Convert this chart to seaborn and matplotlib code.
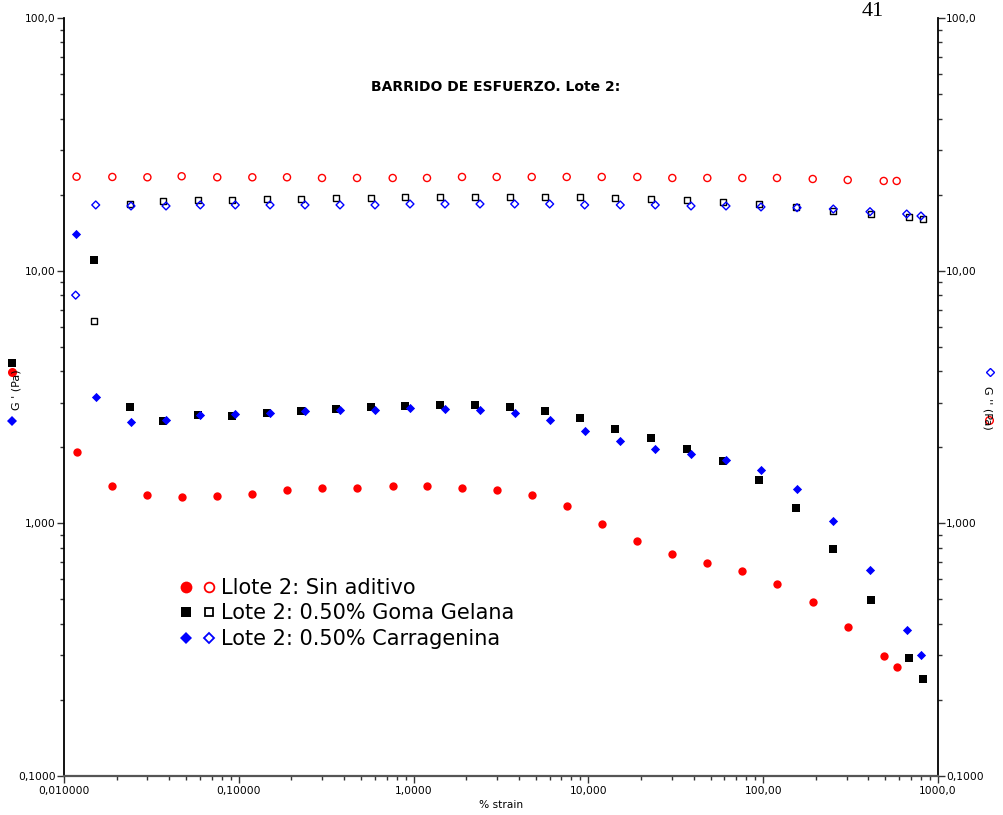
import numpy as np
import pandas as pd
import matplotlib
matplotlib.use("Agg")
import matplotlib.pyplot as plt
import seaborn as sns
from matplotlib.lines import Line2D
from matplotlib.legend_handler import HandlerTuple
from matplotlib.ticker import LogLocator, NullFormatter

# ---------------- data ----------------
strain_sin = [0.0118, 0.0189, 0.0300, 0.0471, 0.0753, 0.1195, 0.1887, 0.2992, 0.4746,
              0.7592, 1.193, 1.892, 2.988, 4.740, 7.513, 11.92, 19.05, 30.20, 47.89,
              75.94, 119.9, 192.0, 304.4, 489.2, 580.2]
gp_sin = [1.917, 1.406, 1.292, 1.272, 1.284, 1.304, 1.352, 1.384, 1.384, 1.406, 1.406,
          1.384, 1.359, 1.292, 1.169, 0.992, 0.850, 0.759, 0.697, 0.646, 0.577, 0.490,
          0.389, 0.298, 0.270]
gpp_sin = [23.55, 23.49, 23.42, 23.64, 23.42, 23.42, 23.42, 23.27, 23.27, 23.27, 23.27,
           23.49, 23.49, 23.49, 23.49, 23.49, 23.49, 23.27, 23.27, 23.27, 23.27, 23.06,
           22.85, 22.65, 22.65]

strain_goma = [0.01491, 0.02395, 0.03669, 0.05819, 0.09108, 0.1444, 0.2260, 0.3584,
               0.5683, 0.8963, 1.422, 2.236, 3.546, 5.666, 8.952, 14.25, 22.81, 36.66,
               58.66, 95.0, 154.0, 251.8, 413.7, 679.8, 817.3]
gp_goma = [11.00, 2.880, 2.550, 2.693, 2.668, 2.735, 2.785, 2.836, 2.888, 2.907, 2.934,
           2.934, 2.888, 2.785, 2.606, 2.364, 2.172, 1.975, 1.766, 1.489, 1.151, 0.790,
           0.496, 0.294, 0.2416]
gpp_goma = [6.34, 18.41, 18.87, 19.10, 19.05, 19.22, 19.22, 19.40, 19.40, 19.52, 19.52,
            19.52, 19.52, 19.52, 19.52, 19.35, 19.18, 18.99, 18.70, 18.36, 17.87, 17.28,
            16.72, 16.31, 16.06]

strain_carr = [0.01166, 0.01519, 0.02417, 0.03834, 0.06022, 0.0955, 0.1509, 0.2392,
               0.3793, 0.6014, 0.9537, 1.512, 2.398, 3.787, 6.006, 9.524, 15.22, 24.13,
               38.64, 61.27, 97.14, 156.2, 251.8, 408.3, 662.1, 799.1]
gp_carr = [13.97, 3.163, 2.512, 2.573, 2.693, 2.710, 2.735, 2.785, 2.810, 2.803, 2.854,
           2.828, 2.803, 2.735, 2.573, 2.321, 2.113, 1.975, 1.877, 1.782, 1.622, 1.364,
           1.019, 0.652, 0.378, 0.301]
gpp_carr = [8.0, 18.2, 18.03, 18.03, 18.2, 18.2, 18.2, 18.2, 18.2, 18.2, 18.36, 18.36,
            18.36, 18.36, 18.36, 18.2, 18.2, 18.2, 18.03, 18.03, 17.87, 17.75, 17.54,
            17.12, 16.76, 16.46]

series_labels = ["Llote 2: Sin aditivo", "Lote 2: 0.50% Goma Gelana",
                 "Lote 2: 0.50% Carragenina"]
x_ticks = [0.01, 0.1, 1, 10, 100, 1000]
x_ticklabels = ["0,010000", "0,10000", "1,0000", "10,000", "100,00", "1000,0"]
y_ticks = [0.1, 1, 10, 100]
y_ticklabels = ["0,1000", "1,000", "10,00", "100,0"]
title = "BARRIDO DE ESFUERZO. Lote 2:"
x_label = "% strain"

# ---------------- styling ----------------
sns.set_style("ticks")
plt.rcParams["font.family"] = ["DejaVu Sans"]
plt.rcParams["text.color"] = "black"
plt.rcParams["xtick.color"] = "black"
plt.rcParams["ytick.color"] = "black"
plt.rcParams["xtick.labelcolor"] = "black"
plt.rcParams["ytick.labelcolor"] = "black"

W, H = 1004, 815
fig = plt.figure(figsize=(W / 100, H / 100), dpi=100)
ax = fig.add_axes([64 / W, 1 - 776 / H, (938 - 64) / W, (776 - 18) / H])

RED, BLACK, BLUE = "#ff0000", "#000000", "#0000ff"

def sc(x, y, marker, color, filled, s):
    df = pd.DataFrame({"x": x, "y": y})
    if filled:
        sns.scatterplot(data=df, x="x", y="y", ax=ax, marker=marker, color=color,
                        s=s, linewidth=0, zorder=3)
    else:
        sns.scatterplot(data=df, x="x", y="y", ax=ax, marker=marker, s=s,
                        facecolor="none", edgecolor=color, linewidth=1.0, zorder=3)

sc(strain_sin, gp_sin, "o", RED, True, 36)
sc(strain_sin, gpp_sin, "o", RED, False, 26)
sc(strain_goma, gp_goma, "s", BLACK, True, 26)
sc(strain_goma, gpp_goma, "s", BLACK, False, 20)
sc(strain_carr, gp_carr, "D", BLUE, True, 22)
sc(strain_carr, gpp_carr, "D", BLUE, False, 16)

ax.set_xscale("log")
ax.set_yscale("log")
ax.set_xlim(0.01, 1000)
ax.set_ylim(0.1, 100)
ax.set_xticks(x_ticks)
ax.set_xticklabels(x_ticklabels)
ax.set_yticks(y_ticks)
ax.set_yticklabels(y_ticklabels)
ax.xaxis.set_minor_locator(LogLocator(base=10, subs=range(2, 10)))
ax.yaxis.set_minor_locator(LogLocator(base=10, subs=range(2, 10)))
ax.xaxis.set_minor_formatter(NullFormatter())
ax.yaxis.set_minor_formatter(NullFormatter())
ax.set_xlabel("")
ax.set_ylabel("")

ax.spines["top"].set_visible(False)
for side in ["left", "right"]:
    ax.spines[side].set_visible(True)
    ax.spines[side].set_color("#000000")
    ax.spines[side].set_linewidth(1.3)
ax.spines["bottom"].set_color("#555555")
ax.spines["bottom"].set_linewidth(1.6)

ax.tick_params(axis="y", which="both", left=True, right=True, labelleft=True,
               labelright=True, direction="out", labelsize=7.7, pad=0.8,
               color="#333333", width=1)
ax.tick_params(axis="x", which="both", bottom=True, top=False, direction="out",
               labelsize=7.7, pad=2.5, color="#333333", width=1)
ax.tick_params(which="major", length=5)
ax.tick_params(which="minor", length=3)

# x label
fig.text(501 / W, 1 - 805 / H, x_label, ha="center", va="center", fontsize=7.7)

# title
fig.text(496 / W, 1 - 87 / H, title, ha="center", va="center", fontsize=10,
         fontweight="bold")

# page number
fig.text(873 / W, 1 - 16 / H, "41", ha="center", va="baseline", fontsize=16,
         family=["Liberation Serif", "DejaVu Serif"])

# y labels (with Origin-style symbol keys drawn as markers)
fig.text(17 / W, 1 - 390 / H, "G ' (Pa)", rotation=90, ha="center", va="center",
         fontsize=8)
fig.text(988 / W, 1 - 408 / H, "G '' (Pa)", rotation=270, ha="center", va="center",
         fontsize=8)

def key(xpx, ypx, marker, color, filled, ms):
    fig.add_artist(Line2D([xpx / W], [1 - ypx / H], transform=fig.transFigure,
                          ls="none", marker=marker, ms=ms,
                          mfc=color if filled else "none", mec=color,
                          mew=0 if filled else 1.0))

key(12, 421, "D", BLUE, True, 5)
key(12, 372, "o", RED, True, 6.5)
key(12, 363, "s", BLACK, True, 5.5)
key(990, 372, "D", BLUE, False, 4.5)
key(989, 420, "o", RED, False, 5.5)

# legend
def mk(marker, color, filled, ms):
    if filled:
        return Line2D([], [], ls="none", marker=marker, mfc=color, mec=color, ms=ms, mew=0)
    return Line2D([], [], ls="none", marker=marker, mfc="none", mec=color, ms=ms - 1.5,
                  mew=1.3)

handles = [
    (mk("o", RED, True, 8.5), mk("o", RED, False, 8.5)),
    (mk("s", BLACK, True, 7.5), mk("s", BLACK, False, 7.5)),
    (mk("D", BLUE, True, 6.5), mk("D", BLUE, False, 6.5)),
]
leg = fig.legend(handles, series_labels, loc="upper left",
                 bbox_to_anchor=(181 / W, 1 - 578 / H), bbox_transform=fig.transFigure,
                 frameon=False, fontsize=15,
                 handler_map={tuple: HandlerTuple(ndivide=None, pad=0.6)},
                 handlelength=1.6, handletextpad=0.3, labelspacing=0.26, borderpad=0,
                 borderaxespad=0)
for t in leg.get_texts():
    t.set_color("black")

fig.savefig("out.png", dpi=100)
